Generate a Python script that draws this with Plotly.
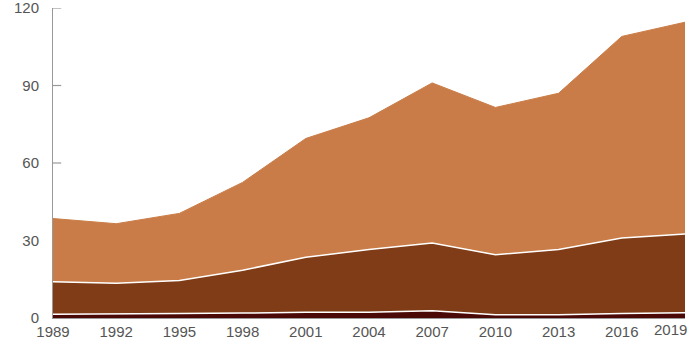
import plotly.graph_objects as go

years = [1989, 1992, 1995, 1998, 2001, 2004, 2007, 2010, 2013, 2016, 2019]

# Layer values (stacked from the bottom up)
base_layer = [1.5, 1.5, 1.7, 1.9, 2.2, 2.2, 2.8, 1.3, 1.3, 1.7, 2.0]
middle_layer = [12.5, 12.0, 12.8, 16.6, 21.3, 24.3, 26.2, 23.2, 25.2, 29.3, 30.5]
top_layer = [24.5, 23.0, 26.0, 34.0, 46.0, 51.0, 62.0, 57.0, 60.5, 78.0, 82.0]

y_ticks = [0, 30, 60, 90, 120]
x_ticks = [1989, 1992, 1995, 1998, 2001, 2004, 2007, 2010, 2013, 2016]

fig = go.Figure()
fig.add_trace(go.Scatter(x=years, y=base_layer, stackgroup="s", mode="lines",
                         line=dict(color="white", width=1.5), fillcolor="#4a0907"))
fig.add_trace(go.Scatter(x=years, y=middle_layer, stackgroup="s", mode="lines",
                         line=dict(color="white", width=1.5), fillcolor="#7f3c16"))
fig.add_trace(go.Scatter(x=years, y=top_layer, stackgroup="s", mode="lines",
                         line=dict(color="#c97c47", width=1), fillcolor="#c97c47"))

font = dict(family="Arial, Liberation Sans, sans-serif", size=15, color="#555555")

# short tick marks pointing into the plot from the value axis, kept under the areas
tick_marks = [dict(type="line", xref="x domain", yref="y", x0=0, x1=0.013, y0=v, y1=v,
                   line=dict(color="#999999", width=1.2), layer="below")
              for v in y_ticks]

fig.update_layout(
    width=690, height=345,
    margin=dict(l=53, r=5, t=8, b=27, autoexpand=False),
    paper_bgcolor="white", plot_bgcolor="white",
    showlegend=False,
    font=font,
    shapes=tick_marks,
    xaxis=dict(range=[1989, 2019], tickvals=x_ticks, ticks="", showgrid=False,
               zeroline=False, showline=True, linecolor="#999999", linewidth=1,
               tickfont=font, automargin=False),
    yaxis=dict(range=[0, 120], tickvals=y_ticks, ticks="", showgrid=False,
               zeroline=False, showline=True, linecolor="#999999", linewidth=1,
               ticklabelstandoff=10, tickfont=font, automargin=False,
               ticklabeloverflow="allow"),
    annotations=[dict(x=2019, y=0, xref="x", yref="y", text="2019",
                      showarrow=False, xanchor="right", yanchor="top",
                      xshift=4, yshift=-1, font=font)],
)

fig.write_html("out.html")
